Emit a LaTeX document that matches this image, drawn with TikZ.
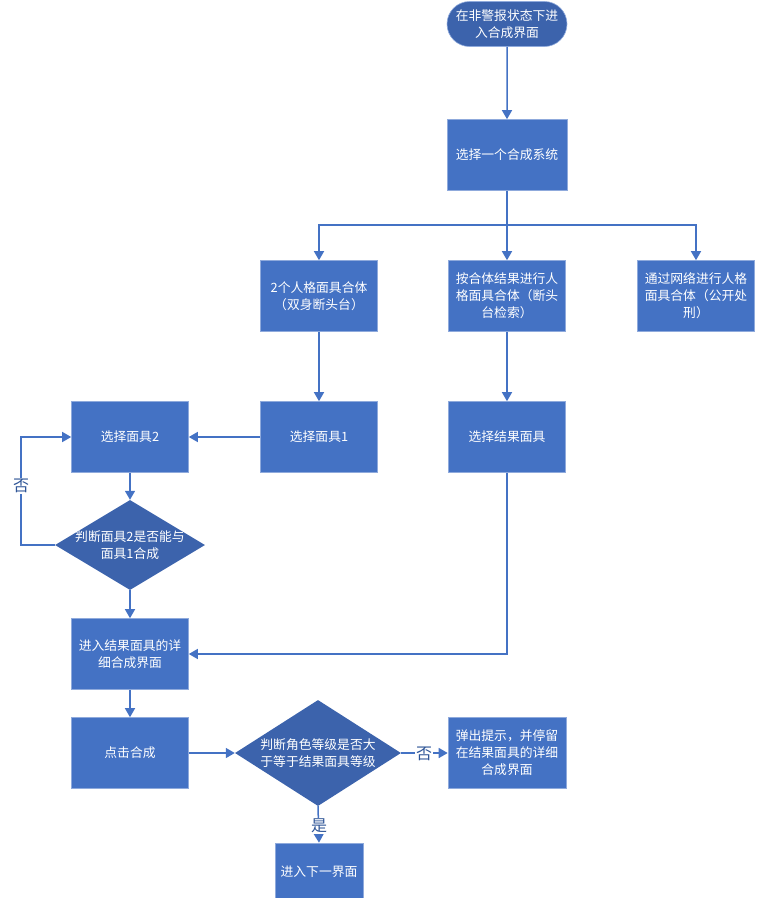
\documentclass[tikz,border=0pt]{standalone}
\usepackage{fontspec}
\setmainfont{Noto Sans CJK SC}
\usetikzlibrary{shapes.geometric,shapes.misc,arrows.meta}
\definecolor{boxblue}{HTML}{4472C4}
\definecolor{darkblue}{HTML}{3C63AC}
\definecolor{edgeblue}{HTML}{8FAADC}
\definecolor{labblue}{HTML}{2F5597}
\begin{document}
\begin{tikzpicture}[x=1pt,y=-1pt,
  every node/.style={font=\fontsize{12.8}{17}\selectfont, text=white, align=center, inner sep=0pt},
  box/.style={rectangle, fill=boxblue, draw=edgeblue, line width=0.6pt, minimum width=117pt, minimum height=71pt},
  term/.style={rounded rectangle, fill=darkblue, draw=edgeblue, line width=0.6pt, minimum width=120pt, minimum height=45pt},
  conn/.style={draw=boxblue, line width=1.5pt, -{Triangle[length=9pt,width=10pt]}},
  lab/.style={text=labblue, font=\fontsize{16}{16}\selectfont, fill=white, inner sep=1pt}
]
\useasboundingbox (0,0) rectangle (757,898);
\node[term] (start) at (507,24) {在非警报状态下进\\入合成界面};
\node[box, minimum width=120pt] (sys) at (507,155) {选择一个合成系统};
\node[box] (two) at (319,296) {2个人格面具合体\\（双身断头台）};
\node[box] (res) at (507,296) {按合体结果进行人\\格面具合体（断头\\台检索）};
\node[box] (net) at (696,296) {通过网络进行人格\\面具合体（公开处\\刑）};
\node[box] (m1) at (319,437) {选择面具1};
\node[box] (rm) at (507,437) {选择结果面具};
\node[box] (m2) at (130,437) {选择面具2};
\node[diamond, fill=darkblue, minimum width=150pt, minimum height=90pt, inner sep=0pt] (d1) at (130,545) {};
\node at (130,545) {判断面具2是否能与\\面具1合成};
\node[box] (detail) at (130,654) {进入结果面具的详\\细合成界面};
\node[box] (click) at (130,753) {点击合成};
\node[diamond, fill=darkblue, minimum width=166pt, minimum height=106pt, inner sep=0pt] (d2) at (318,753) {};
\node at (318,753) {判断角色等级是否大\\于等于结果面具等级};
\node[box, minimum width=118pt] (pop) at (507,753) {弹出提示，并停留\\在结果面具的详细\\合成界面};
\node[box, minimum width=88pt, minimum height=58pt] (next) at (319,872) {进入下一界面};
\coordinate (split) at (507,225);
\coordinate (loopA) at (21,545);
\coordinate (loopB) at (21,437);
\coordinate (rmcorner) at (507,654);

\draw[conn] (start) -- (sys);
\draw[draw=boxblue, line width=1.5pt] (sys.south) -- (split);
\draw[conn] (split) -| (two.north);
\draw[conn] (split) -- (res.north);
\draw[conn] (split) -| (net.north);
\draw[conn] (two) -- (m1);
\draw[conn] (res) -- (rm);
\draw[conn] (m1) -- (m2);
\draw[conn] (m2) -- (d1.north);
\draw[conn] (d1.west) -- (loopA) -- (loopB) -- (m2.west);
\node[lab] at (21,486) {否};
\draw[conn] (d1.south) -- (detail.north);
\draw[conn] (rm.south) -- (rmcorner) -- (detail.east);
\draw[conn] (detail) -- (click);
\draw[conn] (click.east) -- (d2.west);
\draw[conn] (d2.east) -- (pop.west);
\node[lab] at (424,754) {否};
\draw[conn] (d2.south) -- (next.north);
\node[lab] at (319,826) {是};
\end{tikzpicture}
\end{document}
